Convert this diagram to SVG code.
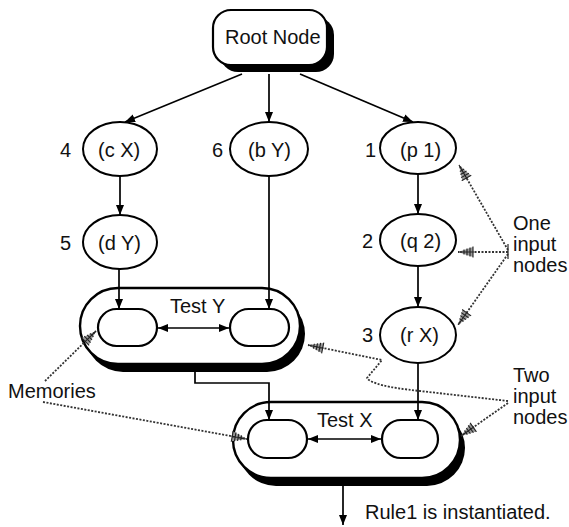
<svg xmlns="http://www.w3.org/2000/svg" width="569" height="527" viewBox="0 0 569 527">
<style>
text{font-family:"Liberation Sans",Arial,Helvetica,sans-serif;font-size:20px;fill:#111}
.ell{fill:#fff;stroke:#000;stroke-width:2}
.pill{fill:#fff;stroke:#000;stroke-width:2.4}
.shadow{fill:#000}
.mem{fill:#fff;stroke:#000;stroke-width:2.2}
.con{fill:none;stroke:#000;stroke-width:1.7}
.lead{fill:none;stroke:#333;stroke-width:1.8;stroke-dasharray:2 1.5}
</style>
<defs>
<marker id="ah" viewBox="0 0 10 10" refX="10" refY="5" markerWidth="10" markerHeight="10" markerUnits="userSpaceOnUse" orient="auto-start-reverse">
<path d="M0,1 L10,5 L0,9 Z" fill="#000"/>
</marker>
<marker id="hatch" viewBox="0 0 16 12" refX="16" refY="6" markerWidth="16" markerHeight="12" markerUnits="userSpaceOnUse" orient="auto">
<path d="M16,6 L1,1 L1,11 Z" fill="#999"/>
<path d="M1,0.5 V11.5 M4,1.5 V10.5 M7,2.5 V9.5 M10,3.5 V8.5 M13,5 V7 M0,6 H16" stroke="#222" stroke-width="1.1"/>
</marker>
</defs>

<g id="root-node">
<rect class="shadow" x="220" y="17" width="114" height="55" rx="18"/>
<rect x="213" y="10" width="114" height="55" rx="18" fill="#fff" stroke="#000" stroke-width="2.2"/>
<text x="225" y="44">Root Node</text>
</g>

<g id="node-cX">
<ellipse class="ell" cx="120" cy="149" rx="37" ry="27"/>
<text x="98" y="157">(c X)</text>
<text x="60" y="157">4</text>
</g>
<g id="node-dY">
<ellipse class="ell" cx="120" cy="242" rx="37" ry="27"/>
<text x="98" y="250">(d Y)</text>
<text x="60" y="250">5</text>
</g>
<g id="node-bY">
<ellipse class="ell" cx="269" cy="149" rx="39" ry="27"/>
<text x="248" y="157">(b Y)</text>
<text x="212" y="157">6</text>
</g>
<g id="node-p1">
<ellipse class="ell" cx="418" cy="148" rx="38" ry="26"/>
<text x="400" y="157">(p 1)</text>
<text x="365" y="157">1</text>
</g>
<g id="node-q2">
<ellipse class="ell" cx="418" cy="240" rx="38" ry="26"/>
<text x="400" y="248">(q 2)</text>
<text x="362" y="248">2</text>
</g>
<g id="node-rX">
<ellipse class="ell" cx="418" cy="335" rx="38" ry="28"/>
<text x="400" y="342">(r X)</text>
<text x="362" y="342">3</text>
</g>

<g id="test-Y">
<rect class="shadow" x="85" y="296" width="220" height="76" rx="38"/>
<rect class="pill" x="80" y="288" width="220" height="76" rx="38"/>
<rect class="mem" x="98" y="309" width="59" height="37" rx="18.5"/>
<rect class="mem" x="230" y="309" width="59" height="37" rx="18.5"/>
<text x="170" y="313">Test Y</text>
</g>

<g id="test-X">
<rect class="shadow" x="238" y="410" width="227" height="76" rx="38"/>
<rect class="pill" x="233" y="402" width="227" height="76" rx="38"/>
<rect class="mem" x="248" y="420" width="59" height="38" rx="19"/>
<rect class="mem" x="382" y="420" width="56" height="38" rx="19"/>
<text x="317" y="427">Test X</text>
</g>

<g id="labels">
<text x="8" y="398">Memories</text>
<text x="513" y="230">One</text>
<text x="513" y="251">input</text>
<text x="513" y="272">nodes</text>
<text x="513" y="382">Two</text>
<text x="513" y="403">input</text>
<text x="513" y="424">nodes</text>
<text x="365" y="519">Rule1 is instantiated.</text>
</g>

<g id="connectors">
<line class="con" x1="242" y1="74" x2="125" y2="122" marker-end="url(#ah)"/>
<line class="con" x1="269" y1="74" x2="269" y2="122" marker-end="url(#ah)"/>
<line class="con" x1="300" y1="74" x2="413" y2="122" marker-end="url(#ah)"/>
<line class="con" x1="120" y1="176" x2="120" y2="215" marker-end="url(#ah)"/>
<line class="con" x1="418" y1="174" x2="418" y2="214" marker-end="url(#ah)"/>
<line class="con" x1="418" y1="266" x2="418" y2="307" marker-end="url(#ah)"/>
<line class="con" x1="119" y1="269" x2="119" y2="309" marker-end="url(#ah)"/>
<line class="con" x1="269" y1="176" x2="269" y2="309" marker-end="url(#ah)"/>
<path class="con" d="M195,372 V383 H269 V420" marker-end="url(#ah)"/>
<line class="con" x1="418" y1="363" x2="418" y2="420" marker-end="url(#ah)"/>
<line class="con" x1="158" y1="328" x2="229" y2="328" marker-start="url(#ah)" marker-end="url(#ah)"/>
<line class="con" x1="308" y1="439" x2="381" y2="439" marker-start="url(#ah)" marker-end="url(#ah)"/>
<line class="con" x1="343" y1="486" x2="343" y2="525" marker-end="url(#ah)"/>

<line class="lead" x1="508" y1="250" x2="459" y2="165" marker-end="url(#hatch)"/>
<line class="lead" x1="508" y1="252" x2="458" y2="252" marker-end="url(#hatch)"/>
<line class="lead" x1="508" y1="254" x2="458" y2="325" marker-end="url(#hatch)"/>
<line x1="508" y1="244" x2="508" y2="259" stroke="#333" stroke-width="1.3"/>
<path class="lead" d="M508,401 L420,391 Q372,386 367,378 L382,360 L308,345" marker-end="url(#hatch)"/>
<line class="lead" x1="508" y1="403" x2="461" y2="436" marker-end="url(#hatch)"/>
<line class="lead" x1="45" y1="381" x2="96" y2="331" marker-end="url(#hatch)"/>
<line class="lead" x1="43" y1="402" x2="247" y2="439" marker-end="url(#hatch)"/>
</g>
</svg>
